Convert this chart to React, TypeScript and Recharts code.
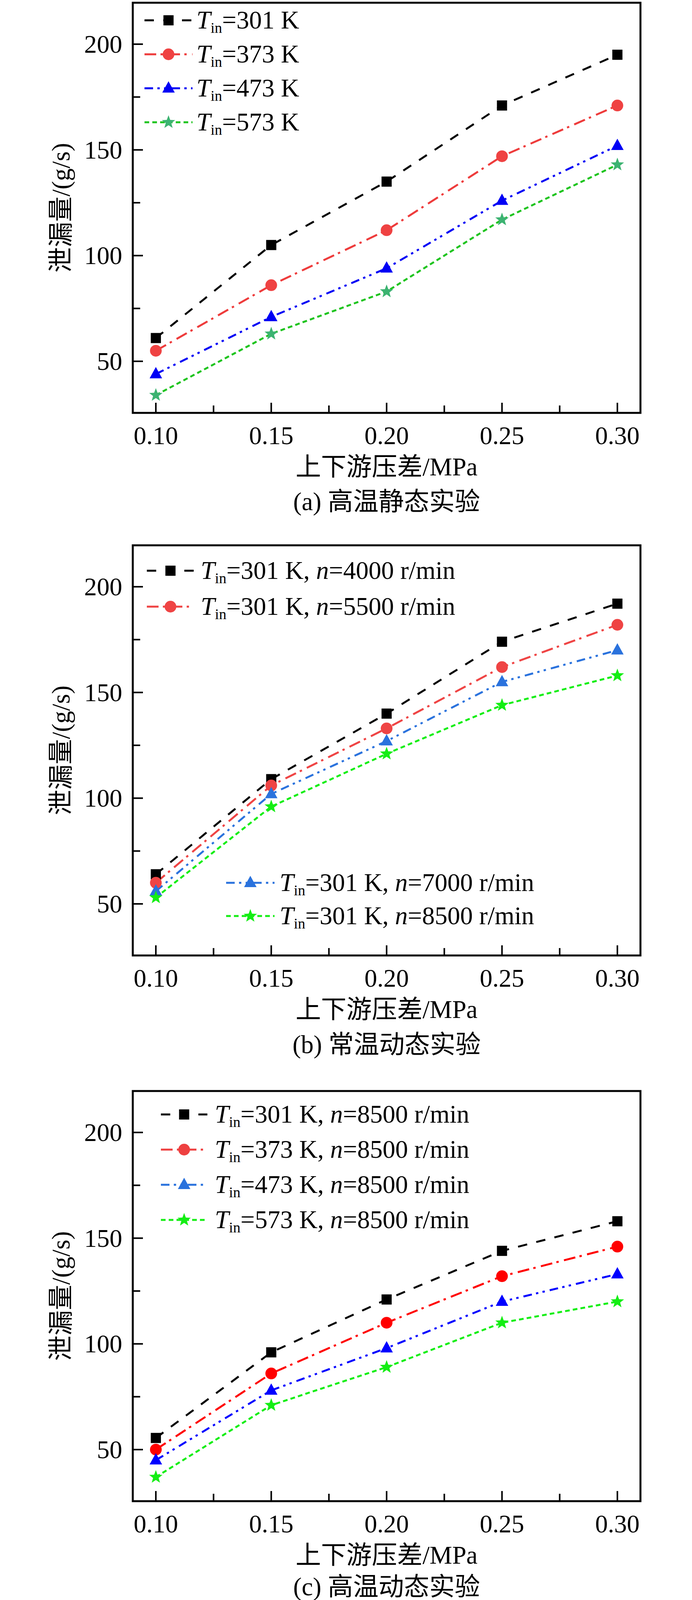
import React from 'react';
import { LineChart, Line, XAxis, YAxis, ReferenceArea } from 'recharts';

const FONT = "'Liberation Serif', 'Times New Roman', 'Noto Sans CJK SC', serif";

const pressure = [0.1, 0.15, 0.2, 0.25, 0.3];
const xTicks = [0.1, 0.125, 0.15, 0.175, 0.2, 0.225, 0.25, 0.275, 0.3];
const xMajor = [0.1, 0.15, 0.2, 0.25, 0.3];
const xTickLabels = ['0.10', '0.15', '0.20', '0.25', '0.30'];
const yTicks = [50, 75, 100, 125, 150, 175, 200];
const yMajor = [50, 100, 150, 200];

// (a) 高温静态
const staticT301 = [61, 105, 135, 171, 195];
const staticT373 = [55, 86, 112, 147, 171];
const staticT473 = [44, 71, 94, 126, 152];
const staticT573 = [34, 63, 83, 117, 143];

// (b) 常温动态, T=301 K
const dynN4000 = [64, 109, 140, 174, 192];
const dynN5500 = [60, 106, 133, 162, 182];
const dynN7000 = [56, 102, 127, 155, 170];
const dynN8500 = [53, 96, 121, 144, 158];

// (c) 高温动态, n=8500 r/min
const hotT301 = [55.5, 96, 121, 144, 158];
const hotT373 = [50, 86, 110, 132, 146];
const hotT473 = [45, 78, 98, 120, 133];
const hotT573 = [37, 71, 89, 110, 120];

const temps = ['301', '373', '473', '573'];
const speeds = ['4000', '5500', '7000', '8500'];

const DASH = {
  dash: '24 24',
  dashDot: '30 11 6 14',
  dashDotDot: '22 11 6 11 6 13',
  shortDash: '12 8',
};

const near = (arr: number[], v: number) => arr.some((a) => Math.abs(a - v) < 1e-9);

function Marker({ shape, cx, cy, color }: any) {
  if (cx == null || cy == null) return null;
  if (shape === 'square') {
    return <rect x={cx - 13} y={cy - 13} width={26} height={26} fill={color} />;
  }
  if (shape === 'circle') {
    return <circle cx={cx} cy={cy} r={15} fill={color} />;
  }
  if (shape === 'triangle') {
    return <polygon points={`${cx},${cy - 18} ${cx + 16},${cy + 11} ${cx - 16},${cy + 11}`} fill={color} />;
  }
  const pts: string[] = [];
  for (let i = 0; i < 10; i++) {
    const r = i % 2 === 0 ? 18 : 7.5;
    const a = -Math.PI / 2 + (i * Math.PI) / 5;
    pts.push(`${cx + r * Math.cos(a)},${cy + r * Math.sin(a)}`);
  }
  return <polygon points={pts.join(' ')} fill={color} />;
}

function XTick({ x, y, payload }: any) {
  const v = payload.value;
  const major = near(xMajor, v);
  const idx = xMajor.findIndex((m) => Math.abs(m - v) < 1e-9);
  return (
    <g>
      <line x1={x} x2={x} y1={y} y2={y - (major ? 26 : 19)} stroke="#000" strokeWidth={4} />
      {major && (
        <text x={x} y={y + 80} textAnchor="middle" fontSize={65} fontFamily={FONT} fill="#000">
          {xTickLabels[idx]}
        </text>
      )}
    </g>
  );
}

function YTick({ x, y, payload }: any) {
  const v = payload.value;
  const major = near(yMajor, v);
  return (
    <g>
      <line x1={x} x2={x + (major ? 26 : 19)} y1={y} y2={y} stroke="#000" strokeWidth={4} />
      {major && (
        <text x={x - 27} y={y + 22} textAnchor="end" fontSize={65} fontFamily={FONT} fill="#000">
          {v}
        </text>
      )}
    </g>
  );
}

function LegendRow({ s, cy, x0, x1, tx }: any) {
  const lc = s.legendColor || s.color;
  return (
    <g>
      <line x1={x0} x2={x1} y1={cy} y2={cy} stroke={lc} strokeWidth={5} strokeDasharray={s.dash} />
      <Marker shape={s.shape} cx={(x0 + x1) / 2} cy={cy} color={s.legendMarker || s.markerColor || lc} />
      <text x={tx} y={cy + 21} fontSize={65} fontFamily={FONT} fill="#000">
        <tspan fontStyle="italic">T</tspan>
        <tspan fontSize={38} dy={11}>in</tspan>
        <tspan dy={-11}>{`=${s.t} K`}</tspan>
        {s.n && <tspan>, </tspan>}
        {s.n && <tspan fontStyle="italic">n</tspan>}
        {s.n && <tspan>{`=${s.n} r/min`}</tspan>}
      </text>
    </g>
  );
}

function Panel({ top, series, legendRows, caption, captionY }: any) {
  const data = pressure.map((p, i) => {
    const row: any = { p };
    series.forEach((s: any) => {
      row[s.key] = s.values[i];
    });
    return row;
  });

  return (
    <div style={{ position: 'absolute', left: 0, top, width: 1772, height: 1330 }}>
      <LineChart width={1772} height={1300} data={data} margin={{ top: 7, right: 132, bottom: 0, left: 0 }}>
        <ReferenceArea
          x1={0.09}
          x2={0.31}
          y1={25.6}
          y2={219.6}
          ifOverflow="visible"
          fill="none"
          fillOpacity={0}
          stroke="#000"
          strokeWidth={5}
        />
        <XAxis
          type="number"
          dataKey="p"
          domain={[0.09, 0.31]}
          ticks={xTicks}
          interval={0}
          height={243}
          axisLine={false}
          tickLine={false}
          tickSize={0}
          tickMargin={0}
          tick={(props: any) => <XTick {...props} />}
          label={{
            value: '上下游压差/MPa',
            position: 'insideBottom',
            offset: 83,
            fontSize: 65,
            fill: '#000',
            fontFamily: FONT,
          }}
        />
        <YAxis
          type="number"
          domain={[25.6, 219.6]}
          ticks={yTicks}
          interval={0}
          width={340}
          axisLine={false}
          tickLine={false}
          tickSize={0}
          tickMargin={0}
          tick={(props: any) => <YTick {...props} />}
          label={{
            value: '泄漏量/(g/s)',
            angle: -90,
            position: 'insideLeft',
            offset: 155,
            fontSize: 65,
            fill: '#000',
            fontFamily: FONT,
            style: { textAnchor: 'middle' },
          }}
        />
        {series.map((s: any) => (
          <Line
            key={s.key}
            type="linear"
            dataKey={s.key}
            stroke={s.color}
            strokeWidth={5}
            strokeDasharray={s.dash}
            isAnimationActive={false}
            dot={(p: any) => (
              <Marker key={`${s.key}-${p.index}`} shape={s.shape} cx={p.cx} cy={p.cy} color={s.markerColor || s.color} />
            )}
            activeDot={false}
          />
        ))}
      </LineChart>
      <svg width={1772} height={1330} style={{ position: 'absolute', left: 0, top: 0, pointerEvents: 'none' }}>
        {legendRows.map((r: any) => (
          <LegendRow key={r.s.key} s={r.s} cy={r.cy} x0={r.x0} x1={r.x1} tx={r.tx} />
        ))}
        <text x={990} y={captionY} textAnchor="middle" fontSize={65} fontFamily={FONT} fill="#000">
          {caption}
        </text>
      </svg>
    </div>
  );
}

const seriesA = [
  { key: 'a1', values: staticT301, t: temps[0], color: '#000000', shape: 'square', dash: DASH.dash },
  { key: 'a2', values: staticT373, t: temps[1], color: '#ee3b3b', markerColor: '#ef4242', shape: 'circle', dash: DASH.dashDot },
  { key: 'a3', values: staticT473, t: temps[2], color: '#0000f5', shape: 'triangle', dash: DASH.dashDotDot },
  { key: 'a4', values: staticT573, t: temps[3], color: '#1fc41f', markerColor: '#3cb371', shape: 'star', dash: DASH.shortDash },
];

const seriesB = [
  { key: 'b1', values: dynN4000, t: temps[0], n: speeds[0], color: '#000000', shape: 'square', dash: DASH.dash },
  { key: 'b2', values: dynN5500, t: temps[0], n: speeds[1], color: '#ef4444', shape: 'circle', dash: DASH.dashDot },
  { key: 'b3', values: dynN7000, t: temps[0], n: speeds[2], color: '#2a72dd', shape: 'triangle', dash: DASH.dashDotDot },
  { key: 'b4', values: dynN8500, t: temps[0], n: speeds[3], color: '#14ee14', shape: 'star', dash: DASH.shortDash },
];

const seriesC = [
  { key: 'c1', values: hotT301, t: temps[0], n: speeds[3], color: '#000000', shape: 'square', dash: DASH.dash },
  { key: 'c2', values: hotT373, t: temps[1], n: speeds[3], color: '#ff0000', legendColor: '#ee4040', shape: 'circle', dash: DASH.dashDot },
  { key: 'c3', values: hotT473, t: temps[2], n: speeds[3], color: '#0000ff', legendColor: '#2a72dd', shape: 'triangle', dash: DASH.dashDotDot },
  { key: 'c4', values: hotT573, t: temps[3], n: speeds[3], color: '#14ee14', shape: 'star', dash: DASH.shortDash },
];

export default function App() {
  const rowsA = seriesA.map((s, i) => ({ s, cy: 52 + i * 87, x0: 370, x1: 493, tx: 503 }));
  const rowsB = [
    { s: seriesB[0], cy: 72, x0: 376, x1: 497, tx: 514 },
    { s: seriesB[1], cy: 164, x0: 376, x1: 497, tx: 514 },
    { s: seriesB[2], cy: 871, x0: 579, x1: 703, tx: 716 },
    { s: seriesB[3], cy: 956, x0: 579, x1: 703, tx: 716 },
  ];
  const rowsC = seriesC.map((s, i) => ({ s, cy: 67 + i * 90, x0: 412, x1: 531, tx: 550 }));

  return (
    <div style={{ position: 'absolute', left: 0, top: 0, width: 1772, height: 4109, background: '#fff', overflow: 'hidden' }}>
      <Panel top={0} series={seriesA} legendRows={rowsA} caption="(a) 高温静态实验" captionY={1306} />
      <Panel top={1389} series={seriesB} legendRows={rowsB} caption="(b) 常温动态实验" captionY={1307} />
      <Panel top={2786} series={seriesC} legendRows={rowsC} caption="(c) 高温动态实验" captionY={1298} />
    </div>
  );
}
